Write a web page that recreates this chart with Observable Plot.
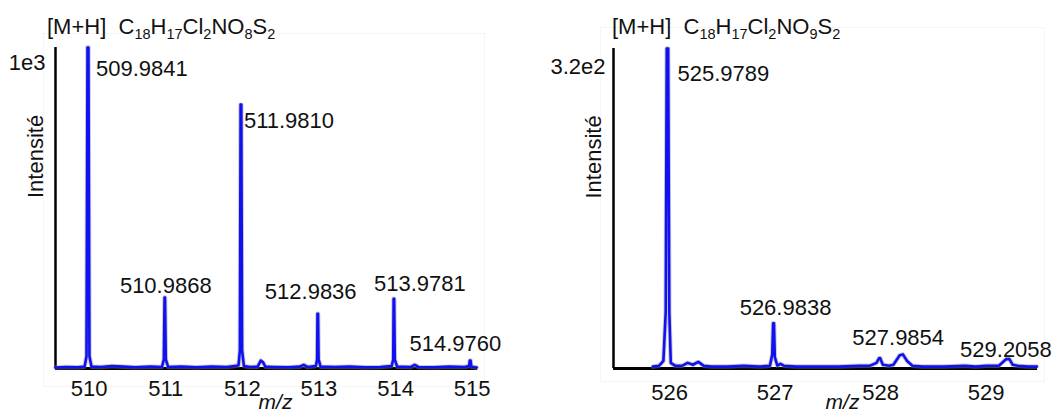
<!DOCTYPE html>
<html><head><meta charset="utf-8">
<script src="https://cdn.jsdelivr.net/npm/d3@7"></script>
<script src="https://cdn.jsdelivr.net/npm/@observablehq/plot@0.6"></script>
<style>
body{margin:0;background:#fff;font-family:"Liberation Sans",Arial,sans-serif;}
#wrap{position:relative;width:1057px;height:417px;overflow:hidden;background:#fff;}
.panel{position:absolute;top:0;}
.title{position:absolute;font-size:22px;color:#111;white-space:nowrap;line-height:1;}
.title sub{font-size:14.5px;vertical-align:-5px;line-height:0;}
.box{position:absolute;border:1px solid #f5f5f5;}
</style></head>
<body>
<div id="wrap">
  <div class="box" style="left:43px;top:33px;width:440px;height:352px;"></div>
  <div class="box" style="left:600px;top:27px;width:443px;height:353px;"></div>
  <div id="left" class="panel" style="left:0px;"></div>
  <div id="right" class="panel" style="left:528px;"></div>
  <div class="title" style="left:47px;top:16px;">[M+H]&nbsp;&nbsp;C<sub>18</sub>H<sub>17</sub>Cl<sub>2</sub>NO<sub>8</sub>S<sub>2</sub></div>
  <div class="title" style="left:612px;top:16px;">[M+H]&nbsp;&nbsp;C<sub>18</sub>H<sub>17</sub>Cl<sub>2</sub>NO<sub>9</sub>S<sub>2</sub></div>
</div>
<script>
// ---------- Left spectrum (C18H17Cl2NO8S2) ----------
const leftMz = [509.56,509.70,509.85,509.94,509.965,509.978,509.990,510.003,510.03,510.15,510.30,510.45,510.60,510.80,510.95,510.975,510.984,510.990,511.0,511.03,511.2,511.4,511.6,511.8,511.95,511.968,511.977,511.986,511.996,512.02,512.1,512.2,512.24,512.27,512.3,512.4,512.6,512.75,512.8,512.85,512.96,512.976,512.981,512.988,512.995,513.02,513.2,513.4,513.6,513.8,513.95,513.970,513.975,513.982,513.99,514.02,514.2,514.25,514.3,514.5,514.7,514.9,514.96,514.97,514.98,514.99,515.06];
const leftInt = [3,5,4,6,40,1050,1050,40,6,5,8,6,4,6,5,30,232,232,30,5,6,4,6,5,10,60,863,863,60,8,5,6,26,20,6,5,4,6,12,5,8,30,179,179,30,6,5,6,4,5,8,30,228,228,30,6,5,12,5,4,6,5,8,26,26,6,3];
const leftPeakMz = [509.9841,510.9868,511.9810,512.9836,513.9781,514.9760];
const leftPeakInt = [1050,232,863,179,228,26];
const leftPeakLabels = ["509.9841","510.9868","511.9810","512.9836","513.9781","514.9760"];
const leftXTicks = [510,511,512,513,514,515];
const leftYTicks = [1000];
const leftYTickLabels = ["1e3"];

// ---------- Right spectrum (C18H17Cl2NO9S2) ----------
const rightMz = [525.84,525.90,525.94,525.962,525.972,525.985,525.996,526.01,526.05,526.12,526.17,526.22,526.27,526.32,526.4,526.55,526.7,526.85,526.95,526.972,526.980,526.988,526.996,527.02,527.05,527.08,527.2,527.4,527.6,527.8,527.9,527.96,527.985,527.995,528.02,528.08,528.12,528.18,528.21,528.25,528.3,528.4,528.6,528.8,528.9,529.0,529.12,529.19,529.22,529.25,529.3,529.4,529.48];
const rightInt = [2,3,8,60,340,340,60,6,3,3,6,4,7,3,2,2,3,2,3,15,48,48,12,3,5,3,2,2,2,3,3,6,11,11,4,3,4,14,15,8,3,2,2,3,2,3,3,10,10,4,3,2,2];
const rightPeakMz = [525.9789,526.9838,527.9854,529.2058];
const rightPeakInt = [340,48,11,10];
const rightPeakLabels = ["525.9789","526.9838","527.9854","529.2058"];
const rightXTicks = [526,527,528,529];
const rightYTicks = [320];
const rightYTickLabels = ["3.2e2"];

// label placement (pixel offsets from the peak apex) — styling, not data
const leftPlace = [
  {anchor:"start", dx:8, dy:21},
  {anchor:"middle", dx:1, dy:-12},
  {anchor:"start", dx:3, dy:16},
  {anchor:"middle", dx:-7, dy:-22},
  {anchor:"middle", dx:26, dy:-15},
  {anchor:"middle", dx:-15, dy:-17}
];
const rightPlace = [
  {anchor:"start", dx:10, dy:25},
  {anchor:"middle", dx:12, dy:-15},
  {anchor:"middle", dx:19, dy:-20},
  {anchor:"middle", dx:-2, dy:-9}
];

function spectrum(o) {
  const profile = o.mz.map((m, i) => ({mz: m, inten: o.inten[i]}));
  const peaks = o.peakMz.map((m, i) => ({mz: m, inten: o.peakInt[i], label: o.peakLabels[i]}));
  const labelMarks = peaks.map((p, i) => Plot.text([p], {
    x: "mz", y: "inten", text: "label",
    textAnchor: o.place[i].anchor, dx: o.place[i].dx, dy: o.place[i].dy,
    fontSize: 22, fill: "#111", lineAnchor: "middle"
  }));
  return Plot.plot({
    width: o.width, height: 417,
    marginLeft: o.ml, marginRight: o.mr, marginTop: o.mt, marginBottom: 49,
    style: {fontFamily: "'Liberation Sans', Arial, sans-serif", fontSize: "22px", color: "#111", background: "transparent", overflow: "visible"},
    x: {domain: o.xDomain, ticks: o.xTicks, tickFormat: d3.format("d"), tickSize: 0, tickPadding: o.tickPad, label: null},
    y: {domain: [0, o.yMax], ticks: o.yTicks, tickFormat: d => o.yTickLabels[o.yTicks.indexOf(d)], tickSize: 0, tickPadding: o.yPad, label: null},
    marks: [
      Plot.ruleY([0], {stroke: "#000", strokeWidth: 3}),
      Plot.ruleX([o.xDomain[0]], {stroke: "#000", strokeWidth: 2.5}),
      Plot.line(profile, {x: "mz", y: "inten", stroke: "#8a8a8a", strokeWidth: 4.5, strokeOpacity: 0.45, curve: "linear"}),
      Plot.line(profile, {x: "mz", y: "inten", stroke: "#1010f5", strokeWidth: 2.6, curve: "linear"}),
      ...labelMarks,
      Plot.text(["Intensité"], {frameAnchor: "left", rotate: -90, dx: -20, dy: -10, fontSize: 22, fill: "#111", lineAnchor: "middle"}),
      Plot.text(["m/z"], {frameAnchor: "bottom", dx: o.mzDx, dy: 34, fontSize: 21, fontStyle: "italic", fill: "#111", lineAnchor: "middle"})
    ]
  });
}

document.getElementById("left").append(spectrum({
  mz: leftMz, inten: leftInt, peakMz: leftPeakMz, peakInt: leftPeakInt, peakLabels: leftPeakLabels,
  place: leftPlace, xDomain: [509.56, 515.07], yMax: 1050, xTicks: leftXTicks,
  yTicks: leftYTicks, yTickLabels: leftYTickLabels,
  width: 528, ml: 55, mr: 51, mt: 47, tickPad: 12, yPad: 10, mzDx: 9
}));
document.getElementById("right").append(spectrum({
  mz: rightMz, inten: rightInt, peakMz: rightPeakMz, peakInt: rightPeakInt, peakLabels: rightPeakLabels,
  place: rightPlace, xDomain: [525.467, 529.486], yMax: 340, xTicks: rightXTicks,
  yTicks: rightYTicks, yTickLabels: rightYTickLabels,
  width: 529, ml: 85, mr: 20, mt: 48, tickPad: 16, yPad: 8, mzDx: 17
}));
</script>
</body></html>
